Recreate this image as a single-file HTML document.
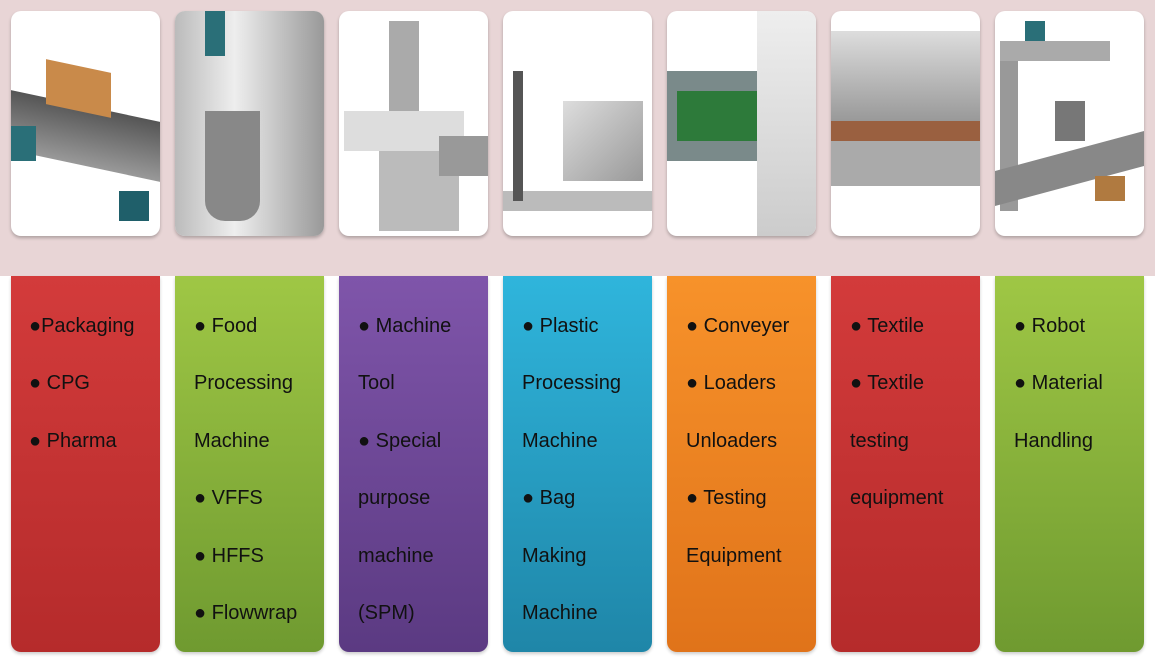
<!DOCTYPE html>
<html><head><meta charset="utf-8"><style>
body{margin:0;width:1155px;height:657px;background:#fff;position:relative;overflow:hidden;font-family:"Liberation Sans",sans-serif}
.band{position:absolute;left:0;top:0;width:1155px;height:276px;background:#e8d5d6}
.card{position:absolute;top:11px;width:149px;height:225px;background:#fff;border-radius:10px;box-shadow:0 2px 3px rgba(0,0,0,.25);overflow:hidden}
.card div{position:absolute}
.p{position:absolute;top:276px;width:149px;height:376px;border-radius:0 0 10px 10px;box-shadow:0 2px 3px rgba(0,0,0,.2)}
.t{position:absolute;left:19px;top:22px;font-size:20px;line-height:57.4px;color:#111;white-space:nowrap}
</style></head><body>
<div class="band"></div>
<div class="card" style="left:11px"><div style="left:0;top:95px;width:149px;height:60px;background:linear-gradient(#555,#999);transform:skewY(12deg)"></div><div style="left:35px;top:55px;width:65px;height:45px;background:#c98a4a;transform:skewY(12deg)"></div><div style="left:108px;top:180px;width:30px;height:30px;background:#1f5f6a"></div><div style="left:0;top:115px;width:25px;height:35px;background:#2a6f78"></div></div>
<div class="card" style="left:175px"><div style="left:0;top:0;width:149px;height:225px;background:linear-gradient(90deg,#bbb,#eee 40%,#999)"></div><div style="left:30px;top:100px;width:55px;height:110px;background:#888;border-radius:0 0 20px 20px"></div><div style="left:30px;top:0;width:20px;height:45px;background:#2a6f78"></div></div>
<div class="card" style="left:339px"><div style="left:40px;top:120px;width:80px;height:100px;background:#bbb"></div><div style="left:5px;top:100px;width:120px;height:40px;background:#ddd"></div><div style="left:50px;top:10px;width:30px;height:90px;background:#aaa"></div><div style="left:100px;top:125px;width:49px;height:40px;background:#999"></div></div>
<div class="card" style="left:503px"><div style="left:0;top:180px;width:149px;height:20px;background:#bbb"></div><div style="left:10px;top:60px;width:10px;height:130px;background:#555"></div><div style="left:60px;top:90px;width:80px;height:80px;background:linear-gradient(135deg,#ddd,#999)"></div></div>
<div class="card" style="left:667px"><div style="left:0;top:60px;width:120px;height:90px;background:#7a8a8a"></div><div style="left:10px;top:80px;width:110px;height:50px;background:#2d7a3a"></div><div style="left:90px;top:0;width:59px;height:225px;background:linear-gradient(#eee,#ccc)"></div></div>
<div class="card" style="left:831px"><div style="left:0;top:20px;width:149px;height:90px;background:linear-gradient(#ddd,#999)"></div><div style="left:0;top:110px;width:149px;height:20px;background:#9a6040"></div><div style="left:0;top:130px;width:149px;height:45px;background:#aaa"></div></div>
<div class="card" style="left:995px"><div style="left:5px;top:30px;width:18px;height:170px;background:#999"></div><div style="left:5px;top:30px;width:110px;height:20px;background:#aaa"></div><div style="left:0;top:140px;width:149px;height:35px;background:#888;transform:skewY(-15deg)"></div><div style="left:60px;top:90px;width:30px;height:40px;background:#777"></div><div style="left:100px;top:165px;width:30px;height:25px;background:#b07a40"></div><div style="left:30px;top:10px;width:20px;height:20px;background:#2a6f78"></div></div>

<div class="p" style="left:11px;background:linear-gradient(#d33b3b,#b52b2b)"><div class="t" style="left:18px">●Packaging<br>● CPG<br>● Pharma</div></div>
<div class="p" style="left:175px;background:linear-gradient(#9fc745,#6f9a30)"><div class="t">● Food<br>Processing<br>Machine<br>● VFFS<br>● HFFS<br>● Flowwrap</div></div>
<div class="p" style="left:339px;background:linear-gradient(#7f55aa,#5b3a82)"><div class="t">● Machine<br>Tool<br>● Special<br>purpose<br>machine<br>(SPM)</div></div>
<div class="p" style="left:503px;background:linear-gradient(#2fb5dc,#1f86a8)"><div class="t">● Plastic<br>Processing<br>Machine<br>● Bag<br>Making<br>Machine</div></div>
<div class="p" style="left:667px;background:linear-gradient(#f7922a,#e0731a)"><div class="t">● Conveyer<br>● Loaders<br>Unloaders<br>● Testing<br>Equipment</div></div>
<div class="p" style="left:831px;background:linear-gradient(#d33b3b,#b52b2b)"><div class="t">● Textile<br>● Textile<br>testing<br>equipment</div></div>
<div class="p" style="left:995px;background:linear-gradient(#9fc745,#6f9a30)"><div class="t">● Robot<br>● Material<br>Handling</div></div>
</body></html>
